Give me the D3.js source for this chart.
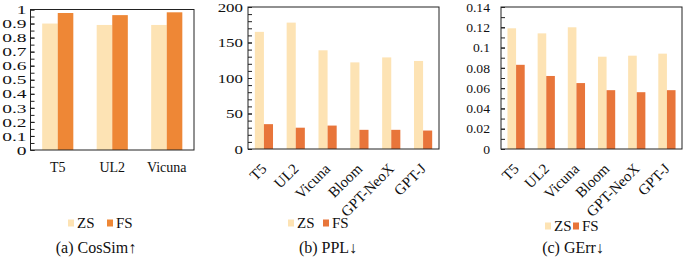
<!DOCTYPE html>
<html>
<head>
<meta charset="utf-8">
<script src="https://cdn.jsdelivr.net/npm/d3@7"></script>
<style>
  body { margin: 0; background: #fff; }
  svg { display: block; }
</style>
</head>
<body>
<div id="chart"></div>
<script>
// data
const cosCats = ["T5", "UL2", "Vicuna"];
const cosZS = [0.90, 0.89, 0.89];
const cosFS = [0.975, 0.96, 0.98];

const llmCats = ["T5", "UL2", "Vicuna", "Bloom", "GPT-NeoX", "GPT-J"];
const pplZS = [165, 178, 139, 122, 129, 124];
const pplFS = [35, 30, 33, 27, 27, 26];
const gerrZS = [0.119, 0.114, 0.12, 0.091, 0.092, 0.094];
const gerrFS = [0.083, 0.072, 0.065, 0.058, 0.056, 0.058];

const seriesNames = ["ZS", "FS"];

const FONT = "'Liberation Serif', 'Times New Roman', serif";
const W = 685, H = 262;
const svg = d3.select("#chart").append("svg")
    .attr("width", W)
    .attr("height", H);

const fmt = d => String(+d.toFixed(3));

// one small bar chart panel
function drawPanel(opt) {
    const { cats, zs, fs, box, yMax, labelStep, minorStep, rotate, fsColor,
            labelPad, labelScale, legendX, legendY, caption, captionX } = opt;
    const zsColor = "#fde3b4";

    const x0 = d3.scaleBand().domain(cats).range([box.left, box.right]).padding(0);
    const x1 = d3.scaleBand().domain(seriesNames).range([0, x0.bandwidth()])
        .paddingInner(0).paddingOuter(0.75);
    const y = d3.scaleLinear().domain([0, yMax]).range([box.bottom, box.top]);

    const g = svg.append("g");

    // bars
    const rows = cats.map((c, i) => ({ cat: c, ZS: zs[i], FS: fs[i] }));
    g.append("g").selectAll("g")
        .data(rows)
        .enter().append("g")
        .attr("transform", d => `translate(${x0(d.cat)},0)`)
        .selectAll("rect")
        .data(d => seriesNames.map(k => ({ key: k, value: d[k] })))
        .enter().append("rect")
        .attr("x", d => x1(d.key))
        .attr("y", d => y(d.value))
        .attr("width", x1.bandwidth())
        .attr("height", d => y(0) - y(d.value))
        .attr("fill", d => d.key === "ZS" ? zsColor : fsColor);

    // minor ticks (inside)
    const nMinor = Math.round(yMax / minorStep);
    const minor = d3.range(0, nMinor + 1).map(i => i * minorStep);
    g.append("g")
        .attr("transform", `translate(${box.left},0)`)
        .call(d3.axisLeft(y).tickValues(minor).tickSize(-4).tickFormat(""))
        .call(a => a.select(".domain").remove())
        .call(a => a.selectAll("line").attr("stroke", "#222"));

    // labelled ticks, the source figure has them a bit stretched sideways
    const nLab = Math.round(yMax / labelStep);
    const labels = d3.range(0, nLab + 1).map(i => i * labelStep);
    g.append("g")
        .attr("transform", `translate(${box.left},0)`)
        .call(d3.axisLeft(y).tickValues(labels).tickSize(-4).tickPadding(labelPad).tickFormat(fmt))
        .call(a => a.select(".domain").remove())
        .call(a => a.selectAll("line").attr("stroke", "#222"))
        .call(a => a.selectAll("text")
            .attr("x", -labelPad / labelScale)
            .attr("transform", `scale(${labelScale},1)`)
            .attr("fill", "#111")
            .style("font-size", "13px")
            .style("font-family", FONT));

    // frame
    g.append("rect")
        .attr("x", box.left)
        .attr("y", box.top)
        .attr("width", box.right - box.left)
        .attr("height", box.bottom - box.top)
        .attr("fill", "none")
        .attr("stroke", "#222")
        .attr("stroke-width", 1);

    // category labels
    const xl = g.append("g").selectAll("text")
        .data(cats)
        .enter().append("text")
        .attr("fill", "#111")
        .style("font-family", FONT)
        .style("font-size", rotate ? "15px" : "14px")
        .text(d => d);
    if (rotate) {
        xl.attr("text-anchor", "end")
            .attr("dy", "0.35em")
            .attr("transform", d => `translate(${x0(d) + x0.bandwidth() / 2},${box.bottom + 17}) rotate(-45)`);
    } else {
        xl.attr("text-anchor", "middle")
            .attr("x", d => x0(d) + x0.bandwidth() / 2)
            .attr("y", box.bottom + 22);
    }

    // legend
    const leg = g.append("g").attr("transform", `translate(${legendX},${legendY})`);
    const items = leg.selectAll("g")
        .data(seriesNames)
        .enter().append("g")
        .attr("transform", (d, i) => `translate(${i * opt.legendGap},0)`);
    items.append("rect")
        .attr("x", 0).attr("y", -3.5)
        .attr("width", 6).attr("height", 7)
        .attr("fill", d => d === "ZS" ? zsColor : fsColor);
    items.append("text")
        .attr("x", 9)
        .attr("dy", "0.35em")
        .attr("fill", "#111")
        .style("font-family", FONT)
        .style("font-size", "15px")
        .text(d => d);

    // caption
    g.append("text")
        .attr("x", captionX)
        .attr("y", 247)
        .attr("dy", "0.35em")
        .attr("text-anchor", "middle")
        .attr("fill", "#111")
        .style("font-family", FONT)
        .style("font-size", "16px")
        .text(caption);
}

drawPanel({
    cats: cosCats, zs: cosZS, fs: cosFS,
    box: { left: 30.5, right: 194, top: 9.5, bottom: 150 },
    yMax: 1, labelStep: 0.1, minorStep: 0.05, rotate: false,
    fsColor: "#ee8736", labelPad: 4, labelScale: 1.5,
    legendX: 68, legendY: 223, legendGap: 39,
    caption: "(a) CosSim\u2191", captionX: 96
});

drawPanel({
    cats: llmCats, zs: pplZS, fs: pplFS,
    box: { left: 248, right: 439, top: 7, bottom: 149 },
    yMax: 200, labelStep: 50, minorStep: 10, rotate: true,
    fsColor: "#e8753a", labelPad: 5, labelScale: 1.3,
    legendX: 288, legendY: 223, legendGap: 35,
    caption: "(b) PPL\u2193", captionX: 328
});

drawPanel({
    cats: llmCats, zs: gerrZS, fs: gerrFS,
    box: { left: 501, right: 682, top: 7, bottom: 149 },
    yMax: 0.14, labelStep: 0.02, minorStep: 0.01, rotate: true,
    fsColor: "#e8753a", labelPad: 11, labelScale: 1.05,
    legendX: 545, legendY: 226, legendGap: 28,
    caption: "(c) GErr\u2193", captionX: 573
});
</script>
</body>
</html>
